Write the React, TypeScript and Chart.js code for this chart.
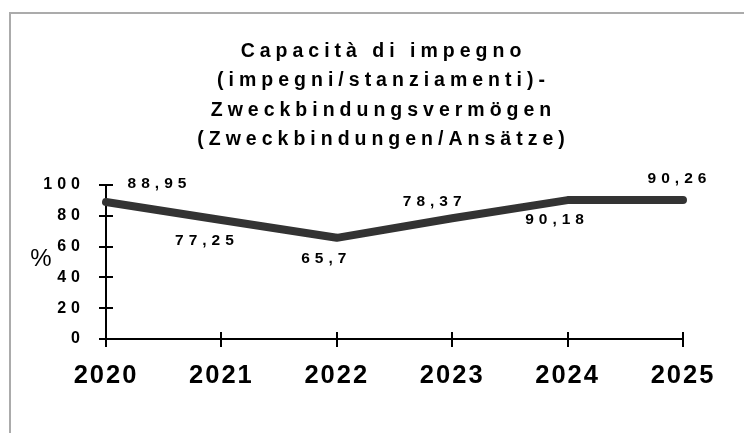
import React, { useEffect, useRef } from 'react';
import { Chart, registerables } from 'chart.js';

Chart.register(...registerables);

const years = ['2020', '2021', '2022', '2023', '2024', '2025'];
const capacity = [88.95, 77.25, 65.7, 78.37, 90.18, 90.26];
const yTickStep = 20;
const yMax = 100;
const titleLines = [
  'Capacità di impegno',
  '(impegni/stanziamenti)-',
  'Zweckbindungsvermögen',
  '(Zweckbindungen/Ansätze)',
];
const yUnit = '%';

const FONT = '"Liberation Sans", Arial, Helvetica, sans-serif';
// pixel offsets of the value labels relative to their points (style only)
const LABEL_OFFSETS: number[][] = [
  [51, -18],
  [-17, 21],
  [-13, 21],
  [-20, -17],
  [-13, 20],
  [-6, -21],
];

const decor = {
  id: 'decor',
  beforeDraw(chart: any) {
    const ctx = chart.ctx;
    ctx.save();
    ctx.strokeStyle = '#ababab';
    ctx.lineWidth = 2;
    ctx.strokeRect(10, 13, 800, 500);
    ctx.restore();
    ctx.letterSpacing = '5px';
  },
  afterDatasetsDraw(chart: any) {
    const ctx = chart.ctx;
    const meta = chart.getDatasetMeta(0);
    ctx.save();
    ctx.letterSpacing = '5px';
    ctx.font = `bold 15.5px ${FONT}`;
    ctx.fillStyle = '#000';
    ctx.textAlign = 'center';
    ctx.textBaseline = 'middle';
    meta.data.forEach((pt: any, i: number) => {
      const [dx, dy] = LABEL_OFFSETS[i];
      ctx.fillText(String(capacity[i]).replace('.', ','), pt.x + dx + 2.5, pt.y + dy);
    });
    ctx.restore();
    ctx.letterSpacing = '2px';
  },
  afterDraw(chart: any) {
    const { ctx, chartArea, scales } = chart;
    const x = scales.x;
    const y = scales.y;
    ctx.save();
    ctx.letterSpacing = '0px';
    ctx.strokeStyle = '#000';
    ctx.lineWidth = 2;
    ctx.beginPath();
    y.ticks.forEach((_t: any, i: number) => {
      const py = Math.round(y.getPixelForTick(i));
      ctx.moveTo(chartArea.left, py);
      ctx.lineTo(chartArea.left + 7, py);
    });
    x.ticks.forEach((_t: any, i: number) => {
      const px = Math.round(x.getPixelForTick(i));
      ctx.moveTo(px, chartArea.bottom);
      ctx.lineTo(px, chartArea.bottom - 7);
    });
    ctx.stroke();

    ctx.fillStyle = '#000';
    ctx.font = `24px ${FONT}`;
    ctx.textAlign = 'center';
    ctx.textBaseline = 'middle';
    ctx.fillText(yUnit, chartArea.left - 65, y.getPixelForValue(51.5));

    ctx.letterSpacing = '5px';
    ctx.font = `bold 19.5px ${FONT}`;
    ctx.textAlign = 'center';
    ctx.textBaseline = 'alphabetic';
    titleLines.forEach((line, i) => {
      ctx.fillText(line, 383.5, 56.7 + i * 29.4);
    });
    ctx.restore();
    ctx.letterSpacing = '0px';
  },
};

export default function App() {
  const ref = useRef<HTMLCanvasElement | null>(null);

  useEffect(() => {
    if (!ref.current) return;
    const chart = new Chart(ref.current, {
      type: 'line',
      data: {
        labels: years,
        datasets: [
          {
            data: capacity,
            borderColor: '#333333',
            backgroundColor: '#333333',
            borderWidth: 8,
            pointRadius: 0,
            tension: 0,
            borderCapStyle: 'round',
            borderJoinStyle: 'round',
            clip: false as any,
          },
        ],
      },
      options: {
        responsive: false,
        animation: false,
        devicePixelRatio: 1,
        layout: { padding: { top: 185, right: 61, left: 0, bottom: 0 } },
        plugins: {
          legend: { display: false },
          title: { display: false },
          tooltip: { enabled: false },
        },
        scales: {
          x: {
            offset: false,
            ticks: {
              color: '#000',
              font: { family: FONT, size: 25.5, weight: 'bold' },
              padding: 14,
              maxRotation: 0,
              autoSkip: false,
              z: 2,
            },
            grid: {
              drawOnChartArea: false,
              drawTicks: true,
              tickLength: 8,
              color: '#000',
              lineWidth: 2,
            },
            border: { display: true, color: '#000', width: 2 },
            afterFit: (s: any) => {
              s.height = 94;
            },
          },
          y: {
            min: 0,
            max: yMax,
            ticks: {
              stepSize: yTickStep,
              color: '#000',
              font: { family: FONT, size: 16, weight: 'bold' },
              padding: 14,
            },
            grid: {
              drawOnChartArea: false,
              drawTicks: true,
              tickLength: 7,
              color: '#000',
              lineWidth: 2,
            },
            border: { display: true, color: '#000', width: 2 },
            afterFit: (s: any) => {
              s.width = 106;
            },
          },
        },
      },
      plugins: [decor],
    } as any);
    return () => chart.destroy();
  }, []);

  return (
    <div style={{ position: 'absolute', left: 0, top: 0, width: 744, height: 433, background: '#fff' }}>
      <canvas ref={ref} width={744} height={433} style={{ display: 'block' }} />
    </div>
  );
}
